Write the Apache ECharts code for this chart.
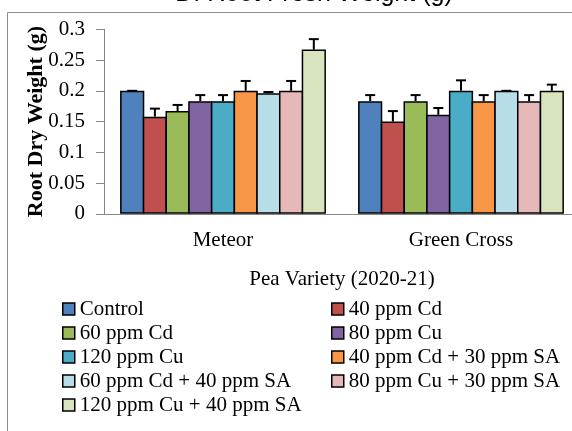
<!DOCTYPE html>
<html>
<head>
<meta charset="utf-8">
<script src="https://cdn.jsdelivr.net/npm/echarts@6/dist/echarts.min.js"></script>
<style>
html, body { margin: 0; padding: 0; background: #fff; }
#root-weight { width: 572px; height: 431px; }
</style>
</head>
<body>
<div id="root-weight"></div>
<script>
var varieties = ['Meteor', 'Green Cross'];
var treatments = ['Control', '40 ppm Cd', '60 ppm Cd', '80 ppm Cu', '120 ppm Cu',
	'40 ppm Cd + 30 ppm SA', '60 ppm Cd + 40 ppm SA', '80 ppm Cu + 30 ppm SA', '120 ppm Cu + 40 ppm SA'];
var colors = ['#4F81BD', '#C0504D', '#9BBB59', '#8064A2', '#4BACC6', '#F79646', '#B7DEE8', '#E6B9B8', '#D7E4BD'];
// one row per treatment: [Meteor, Green Cross]
var means = [
	[0.200, 0.183],
	[0.158, 0.150],
	[0.167, 0.183],
	[0.183, 0.161],
	[0.183, 0.200],
	[0.200, 0.183],
	[0.196, 0.200],
	[0.200, 0.183],
	[0.267, 0.200]
];
var errors = [
	[0.000, 0.010],
	[0.013, 0.017],
	[0.010, 0.010],
	[0.010, 0.011],
	[0.010, 0.017],
	[0.016, 0.010],
	[0.002, 0.000],
	[0.016, 0.010],
	[0.017, 0.010]
];
var yTicks = [0, 0.05, 0.1, 0.15, 0.2, 0.25, 0.3];

var serif = 'Liberation Serif';
// bars overlap a little so neighbouring borders share one line, like Excel
var barPct = 10.17;
var gapPct = -6.2;

var rootWeight = echarts.init(document.getElementById('root-weight'));

var series = [];
for (var i = 0; i < treatments.length; i++) {
	series.push({
		name: treatments[i],
		type: 'bar',
		data: means[i],
		barWidth: barPct + '%',
		barGap: gapPct + '%',
		itemStyle: {
			color: colors[i],
			borderColor: '#000',
			borderWidth: 1.5
		}
	});
}

// error bars (plus only), drawn over each bar
var errData = [];
for (var i = 0; i < treatments.length; i++) {
	for (var j = 0; j < varieties.length; j++) {
		errData.push([j, i, means[i][j], errors[i][j]]);
	}
}
series.push({
	type: 'custom',
	silent: true,
	z: 5,
	data: errData,
	renderItem: function(params, api) {
		var cat = api.value(0);
		var idx = api.value(1);
		var v = api.value(2);
		var e = api.value(3);
		var bandW = api.size([1, 0])[0];
		var step = bandW * barPct / 100 * (1 + gapPct / 100);
		var base = api.coord([cat, v]);
		var top = api.coord([cat, v + e]);
		var x = base[0] + (idx - (treatments.length - 1) / 2) * step;
		var style = { stroke: '#000', lineWidth: 2 };
		return {
			type: 'group',
			children: [{
				type: 'line',
				shape: { x1: x, y1: base[1], x2: x, y2: top[1] },
				style: style
			}, {
				type: 'line',
				shape: { x1: x - 5, y1: top[1], x2: x + 5, y2: top[1] },
				style: style
			}]
		};
	}
});

var legendText = {
	fontFamily: serif,
	fontSize: 21,
	color: '#000',
	lineHeight: 24
};
var legendIcon = {
	borderColor: '#000',
	borderWidth: 1.5
};

var option = {
	animation: false,
	textStyle: { fontFamily: serif },
	graphic: [{
		type: 'rect',
		silent: true,
		shape: { x: 7.5, y: 12.5, width: 620, height: 460 },
		style: { fill: 'none', stroke: '#8c8c8c', lineWidth: 1 }
	}, {
		type: 'text',
		silent: true,
		x: 314,
		y: 7,
		style: {
			text: 'D. Root Fresh Weight (g)',
			font: '25px "Liberation Sans"',
			fill: '#000',
			align: 'center',
			verticalAlign: 'bottom'
		}
	}],
	grid: {
		left: 104,
		top: 29.3,
		width: 476,
		height: 184.5,
		outerBoundsMode: 'none'
	},
	legend: [{
		orient: 'vertical',
		left: 62,
		top: 297,
		padding: 0,
		itemGap: 0,
		itemWidth: 12,
		itemHeight: 12,
		icon: 'rect',
		itemStyle: legendIcon,
		textStyle: legendText,
		data: [treatments[0], treatments[2], treatments[4], treatments[6], treatments[8]]
	}, {
		orient: 'vertical',
		left: 331,
		top: 297,
		padding: 0,
		itemGap: 0,
		itemWidth: 12,
		itemHeight: 12,
		icon: 'rect',
		itemStyle: legendIcon,
		textStyle: legendText,
		data: [treatments[1], treatments[3], treatments[5], treatments[7]]
	}],
	xAxis: [{
		type: 'category',
		position: 'bottom',
		data: varieties,
		axisLine: { lineStyle: { color: '#868686', width: 1 } },
		axisTick: { length: 39, lineStyle: { color: '#868686' } },
		axisLabel: { fontFamily: serif, fontSize: 21, color: '#000', margin: 16 },
		splitLine: { show: false }
	}, {
		type: 'category',
		position: 'bottom',
		data: ['Pea Variety (2020-21)'],
		axisLine: { show: false },
		axisTick: { length: 77, lineStyle: { color: '#868686' } },
		axisLabel: { fontFamily: serif, fontSize: 21, color: '#000', margin: 55 },
		splitLine: { show: false }
	}],
	yAxis: {
		type: 'value',
		min: yTicks[0],
		max: yTicks[yTicks.length - 1],
		interval: yTicks[1] - yTicks[0],
		name: 'Root Dry Weight (g)',
		nameLocation: 'middle',
		nameGap: 57,
		nameMoveOverlap: false,
		nameTextStyle: { fontFamily: serif, fontSize: 22, fontWeight: 'bold', color: '#000' },
		axisLine: { show: true, lineStyle: { color: '#868686', width: 1 } },
		axisTick: { show: true, length: 8, lineStyle: { color: '#868686' } },
		axisLabel: { fontFamily: serif, fontSize: 21, color: '#000', margin: 19 },
		splitLine: { show: false }
	},
	series: series
};
rootWeight.setOption(option);
</script>
</body>
</html>
